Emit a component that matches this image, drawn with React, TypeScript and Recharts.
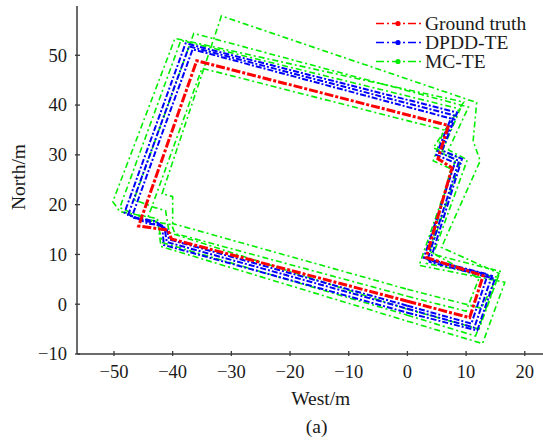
import React from 'react';
import { LineChart, Line, XAxis, YAxis } from 'recharts';

// Axis ticks
const xTicks = [-50, -40, -30, -20, -10, 0, 10, 20];
const yTicks = [-10, 0, 10, 20, 30, 40, 50];

// Ground truth loop (x = West/m, y = North/m)
const groundTruth = [
  [0, 0.6], [10.6, -2.7], [12.9, 5.7], [3.2, 9.4], [7.6, 27.4], [5.2, 29.2], [7.0, 35.9],
  [-35.9, 48.9], [-45.8, 15.7], [-40.8, 14.9], [-40.2, 13.1], [0, 0.6],
];

// DPDD-TE laps
const dpddLap1 = [
  [0, -0.9], [11.4, -4.7], [14.4, 5.7], [3.4, 8.9], [8.8, 28.8], [5.4, 30.5], [8.0, 37.9],
  [-37.2, 51.8], [-47.6, 17.9], [-43.6, 16.4], [-41.4, 15.4], [-41.0, 12.5], [0, -0.9],
];
const dpddLap2 = [
  [0, -1.7], [11.9, -5.3], [14.9, 5.1], [3.8, 8.5], [9.3, 29.2], [5.9, 30.9], [8.5, 38.5],
  [-37.8, 52.4], [-48.2, 18.4], [-44.2, 16.2], [-41.8, 15.8], [-41.5, 11.9], [0, -1.7],
];
const dpddLap3 = [
  [0, -0.3], [10.9, -3.9], [13.7, 6.0], [2.8, 9.3], [8.1, 28.4], [4.9, 30.0], [7.4, 37.3],
  [-36.6, 51.2], [-47.0, 17.4], [-43.0, 16.7], [-41.0, 15.0], [-40.6, 13.0], [0, -0.3],
];

// MC-TE laps
const mcLap1 = [
  [0, 3.0], [12.6, -0.8], [15.6, 6.2], [5.8, 11.4], [12.4, 28.8], [11.2, 32.8], [11.8, 40.5],
  [-31.7, 57.9], [-41.8, 22.2], [-40.0, 21.6], [-40.0, 16.2], [0, 3.0],
];
const mcLap2 = [
  [0, -3.4], [12.8, -7.9], [16.6, 4.4], [2.0, 7.8], [8.4, 29.6], [4.4, 31.4], [9.6, 40.6],
  [-39.6, 53.4], [-50.2, 20.6], [-49.0, 18.6], [-42.6, 17.2], [-42.0, 11.6], [0, -3.4],
];
const mcLap3 = [
  [0, -2.2], [11.6, -6.4], [15.4, 5.4], [3.2, 8.2], [9.0, 28.6], [5.8, 30.4], [9.0, 39.2],
  [-38.6, 53.0], [-49.0, 19.4], [-44.8, 17.2], [-42.6, 16.6], [-41.8, 12.4], [0, -2.2],
];
const mcLap4 = [
  [0, 1.6], [10.0, -1.4], [12.2, 5.2], [3.8, 10.6], [7.4, 27.2], [4.4, 28.8], [6.2, 35.0],
  [-35.0, 47.4], [-44.4, 16.8], [-40.2, 16.0], [-39.6, 14.2], [0, 1.6],
];
const mcLap5 = [
  [0, -1.0], [12.2, -5.0], [15.8, 6.6], [4.4, 10.0], [10.2, 29.0], [7.0, 31.0], [10.4, 39.6],
  [-36.4, 54.4], [-46.6, 21.0], [-43.0, 19.4], [-41.2, 18.8], [-40.6, 14.4], [0, -1.0],
];

const legendItems = [
  { name: 'Ground truth', color: '#ff0000' },
  { name: 'DPDD-TE', color: '#0000ff' },
  { name: 'MC-TE', color: '#00ee00' },
];

const toPts = (arr: number[][]) => arr.map(([x, y]) => ({ x, y }));

const FONT = '"Liberation Serif", "Times New Roman", serif';
const AXIS = '#3a3a3a';
const TEXT = '#1a1a1a';

const fmt = (v: number) => (v < 0 ? `\u2212${Math.abs(v)}` : `${v}`);

const XTick = (props: any) => {
  const { x, y, payload } = props;
  return (
    <g>
      <line x1={x} x2={x} y1={y} y2={y - 5} stroke={AXIS} strokeWidth={1.3} />
      <text x={x} y={y + 22} textAnchor="middle" fontSize={18.5} fontFamily={FONT} style={{ fontFamily: FONT }} fill={TEXT}>
        {fmt(payload.value)}
      </text>
    </g>
  );
};

const YTick = (props: any) => {
  const { x, y, payload } = props;
  return (
    <g>
      <line x1={x} x2={x + 5} y1={y} y2={y} stroke={AXIS} strokeWidth={1.3} />
      <text x={x - 8} y={y + 6.3} textAnchor="end" fontSize={18.5} fontFamily={FONT} style={{ fontFamily: FONT }} fill={TEXT}>
        {fmt(payload.value)}
      </text>
    </g>
  );
};

const LegendBox = () => (
  <div style={{ position: 'absolute', left: 376, top: 14, fontFamily: FONT }}>
    {legendItems.map((it) => (
      <div key={it.name} style={{ display: 'flex', alignItems: 'center', height: 19 }}>
        <svg width={46} height={19}>
          <line x1={0} x2={46} y1={9.5} y2={9.5} stroke={it.color} strokeWidth={1.5} strokeDasharray="8 3 2 3" />
          <circle cx={22} cy={9.5} r={2.6} fill={it.color} />
        </svg>
        <span style={{ marginLeft: 3, fontSize: 19.5, lineHeight: '19px', color: TEXT, whiteSpace: 'nowrap' }}>{it.name}</span>
      </div>
    ))}
  </div>
);

const greenLaps = [mcLap1, mcLap2, mcLap3, mcLap4, mcLap5];
const blueLaps = [dpddLap1, dpddLap2, dpddLap3];

export default function App() {
  return (
    <div style={{ position: 'absolute', left: 0, top: 0, width: 543, height: 445, overflow: 'hidden', background: '#fff' }}>
      <LineChart width={560} height={445} margin={{ top: 6, right: 0, bottom: 0, left: 0 }}>
        <XAxis
          type="number"
          dataKey="x"
          domain={[-56.3, 26]}
          ticks={xTicks}
          allowDataOverflow
          height={91}
          tickSize={0}
          tickLine={false}
          tick={XTick}
          axisLine={{ stroke: AXIS, strokeWidth: 1.5 }}
        />
        <XAxis
          xAxisId="top"
          orientation="top"
          type="number"
          dataKey="x"
          domain={[-56.3, 26]}
          allowDataOverflow
          height={0}
          tick={false}
          tickLine={false}
          axisLine={{ stroke: AXIS, strokeWidth: 1.5 }}
        />
        <YAxis
          type="number"
          domain={[-10, 59.9]}
          ticks={yTicks}
          allowDataOverflow
          width={77}
          tickSize={0}
          tickLine={false}
          tick={YTick}
          axisLine={{ stroke: AXIS, strokeWidth: 1.5 }}
        />
        {greenLaps.map((lap, i) => (
          <Line
            key={`mc-${i}`}
            data={toPts(lap)}
            dataKey="y"
            type="linear"
            stroke="#00ee00"
            strokeWidth={1.6}
            strokeDasharray="6 3 2 3"
            dot={false}
            legendType="none"
            isAnimationActive={false}
          />
        ))}
        {blueLaps.map((lap, i) => (
          <Line
            key={`dpdd-${i}`}
            data={toPts(lap)}
            dataKey="y"
            type="linear"
            stroke="#0000ff"
            strokeWidth={2}
            strokeDasharray="6 2 2 2"
            dot={false}
            legendType="none"
            isAnimationActive={false}
          />
        ))}
        <Line
          data={toPts(groundTruth)}
          dataKey="y"
          type="linear"
          stroke="#ff0000"
          strokeWidth={3}
          strokeDasharray="9 2 3 2"
          dot={false}
          legendType="none"
          isAnimationActive={false}
        />
      </LineChart>
      <LegendBox />
      <svg width={543} height={445} style={{ position: 'absolute', left: 0, top: 0, pointerEvents: 'none' }}>
        <text x={320.7} y={405} textAnchor="middle" fontSize={19.5} fontFamily={FONT} fill={TEXT}>West/m</text>
        <text x={316.7} y={432.5} textAnchor="middle" fontSize={19.5} fontFamily={FONT} fill={TEXT}>(a)</text>
        <text x={25} y={177} transform="rotate(-90 25 177)" textAnchor="middle" fontSize={19.5} fontFamily={FONT} fill={TEXT}>North/m</text>
      </svg>
    </div>
  );
}
